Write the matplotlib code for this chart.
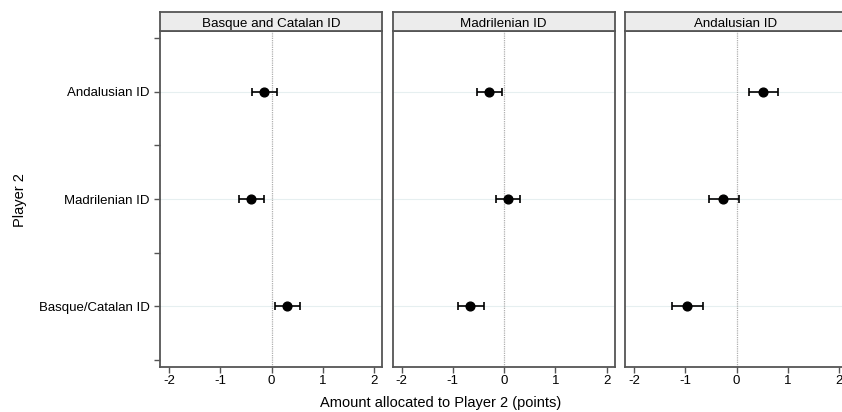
import matplotlib
matplotlib.use("Agg")
import matplotlib.pyplot as plt
import numpy as np

plt.rcParams['font.family'] = ['Liberation Sans', 'DejaVu Sans']

panels = ["Basque and Catalan ID", "Madrilenian ID", "Andalusian ID"]
categories = ["Basque/Catalan ID", "Madrilenian ID", "Andalusian ID"]
# order within each panel: Basque/Catalan, Madrilenian, Andalusian
means = [
    [0.30, -0.40, -0.15],
    [-0.67, 0.07, -0.29],
    [-0.97, -0.26, 0.51],
]
lower = [
    [0.07, -0.63, -0.38],
    [-0.90, -0.15, -0.52],
    [-1.26, -0.54, 0.25],
]
upper = [
    [0.55, -0.14, 0.11],
    [-0.40, 0.31, -0.03],
    [-0.66, 0.045, 0.81],
]
xticks = [-2, -1, 0, 1, 2]

W, H = 842, 412
fig = plt.figure(figsize=(W / 100, H / 100), dpi=100)

lefts = [160, 392.5, 625]
aw = 222
ab = 45
ah = 336
sh = 19
spine_col = "#555555"

for i, name in enumerate(panels):
    ax = fig.add_axes([lefts[i] / W, ab / H, aw / W, ah / H])
    ypos = np.arange(1, len(categories) + 1)
    m = np.array(means[i]); lo = np.array(lower[i]); up = np.array(upper[i])
    for y in ypos:
        ax.axhline(y, color="#e6eff0", lw=0.8, zorder=0)
    ax.axvline(0, color="#b0b0b0", lw=0.9, ls=(0, (1, 0.8)), zorder=1)
    ax.errorbar(m, ypos, xerr=[m - lo, up - m], fmt="o", color="black",
                ms=6.3, capsize=3, elinewidth=1.2, capthick=1.2, zorder=3)
    ax.set_xlim(-2.176, 2.156)
    ax.set_ylim(0.435, 3.565)
    ax.set_xticks(xticks)
    ax.set_xticklabels([str(t) for t in xticks], fontsize=9.5)
    ax.set_yticks(ypos)
    ax.set_yticks([0.5, 1.5, 2.5, 3.5], minor=True)
    if i == 0:
        ax.set_yticklabels(categories, fontsize=9.5)
        ax.tick_params(axis="y", which="both", direction="out", length=4,
                       color=spine_col, width=1)
    else:
        ax.tick_params(axis="y", which="both", left=False, labelleft=False)
    ax.tick_params(axis="x", direction="out", length=4, color=spine_col, width=1, pad=2)
    for s in ax.spines.values():
        s.set_color(spine_col)
        s.set_linewidth(1.3)
    # strip
    sax = fig.add_axes([lefts[i] / W, (ab + ah) / H, aw / W, sh / H])
    sax.set_facecolor("#ececec")
    sax.set_xticks([]); sax.set_yticks([])
    for s in sax.spines.values():
        s.set_color(spine_col)
        s.set_linewidth(1.3)
    sax.text(0.5, 0.47, name, ha="center", va="center_baseline", fontsize=9.6,
             transform=sax.transAxes)

fig.text(441 / W, 1 - 403 / H, "Amount allocated to Player 2 (points)",
         ha="center", va="center", fontsize=10.5)
fig.text(20 / W, 1 - 200 / H, "Player 2", ha="center", va="center",
         rotation=90, fontsize=10.5)

fig.savefig("out.png", dpi=100)
